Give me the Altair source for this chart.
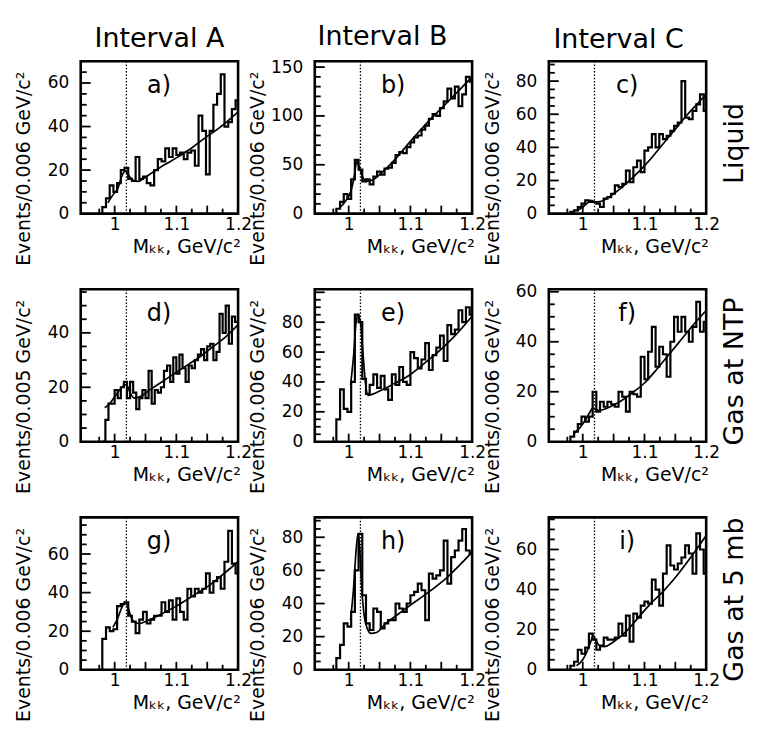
import altair as alt
import pandas as pd

FONT = "DejaVu Sans"
W, H = 158, 153
X_DOMAIN = [0.945, 1.2]
PHI_MASS = 1.019
BIN_START = 0.98
X_LABELS = [1.0, 1.1, 1.2]
X_TICKS_MAJOR = [1.0, 1.05, 1.1, 1.15]
X_TICKS_MINOR = [0.975, 1.025, 1.075, 1.125, 1.175]
PANEL_LABEL_X = 1.072
COLUMN_TITLES = ["Interval A", "Interval B", "Interval C"]
COLUMN_TITLE_DX = [0, -11, -9]
ROW_LABELS = ["Liquid", "Gas at NTP", "Gas at 5 mb"]
X_TITLE = "M\u2096\u2096, GeV/c\u00b2"

# ---- histogram contents (events per bin) ----
A_COUNTS = [3, 7, 13, 10, 14, 20, 21, 16, 15, 26, 16, 17, 14, 13, 20, 25, 24, 30, 26, 30,
            27, 28, 25, 28, 29, 22, 45, 38, 18, 38, 50, 55, 64, 40, 42, 48, 52]
B_COUNTS = [5, 12, 20, 15, 35, 55, 45, 33, 35, 30, 38, 43, 40, 46, 47, 52, 60, 63, 62, 68,
            73, 78, 80, 86, 90, 97, 102, 100, 108, 115, 128, 118, 130, 110, 122, 140, 135]
C_COUNTS = [1, 2, 4, 6, 8, 7, 7, 6, 4, 9, 10, 12, 17, 16, 18, 26, 19, 28, 32, 25,
            38, 40, 48, 40, 48, 45, 47, 50, 53, 55, 80, 58, 57, 62, 66, 72, 62]
D_COUNTS = [0, 8, 14, 14, 19, 16, 20, 22, 16, 22, 18, 12, 16, 19, 16, 26, 14, 19, 18, 20,
            26, 28, 22, 31, 25, 32, 27, 22, 28, 27, 30, 32, 34, 30, 35, 36, 30, 33, 47, 40,
            50, 36, 46, 44]
E_COUNTS = [15, 35, 22, 20, 40, 85, 80, 42, 32, 38, 45, 36, 44, 35, 28, 45, 38, 50, 40, 38,
            60, 56, 49, 55, 66, 48, 58, 63, 71, 54, 78, 72, 75, 88, 80, 90, 85]
F_COUNTS = [2, 4, 7, 10, 8, 10, 20, 12, 16, 14, 16, 15, 14, 20, 18, 12, 20, 19, 18, 34,
            25, 36, 46, 30, 38, 35, 26, 40, 50, 44, 50, 44, 40, 46, 56, 44, 48]
G_COUNTS = [16, 22, 20, 21, 33, 34, 35, 28, 25, 19, 26, 30, 24, 26, 28, 28, 35, 30, 36, 26,
            37, 30, 26, 42, 38, 42, 40, 42, 50, 40, 46, 48, 42, 56, 72, 55, 50]
H_COUNTS = [7, 15, 28, 26, 35, 60, 82, 45, 28, 24, 37, 35, 25, 28, 30, 30, 40, 37, 35, 40,
            45, 47, 52, 48, 30, 58, 55, 57, 60, 78, 52, 68, 72, 78, 85, 72, 70]
I_COUNTS = [2, 4, 10, 8, 11, 18, 15, 10, 12, 16, 15, 15, 16, 23, 17, 27, 14, 28, 26, 32,
            34, 33, 45, 40, 32, 48, 62, 52, 50, 53, 56, 62, 58, 48, 68, 60, 48]

# ---- fit curves ----
A_FIT_X = [0.989, 0.997, 1.005, 1.012, 1.017, 1.023, 1.03, 1.038, 1.05, 1.065, 1.08, 1.1, 1.12, 1.146, 1.17, 1.2]
A_FIT_Y = [5, 8.5, 11.5, 17.5, 19.5, 17.5, 15.2, 14.8, 16.8, 19.6, 22.3, 25.6, 29.2, 34.7, 39.5, 46.8]
B_FIT_X = [0.985, 0.995, 1.003, 1.009, 1.013, 1.017, 1.022, 1.03, 1.04, 1.05, 1.07, 1.1, 1.13, 1.16, 1.18, 1.2]
B_FIT_Y = [6, 13, 22, 38, 53, 48, 38, 33, 35, 40, 52, 74, 95, 114, 127, 140]
C_FIT_X = [0.99, 1.0, 1.008, 1.014, 1.02, 1.03, 1.05, 1.07, 1.09, 1.11, 1.13, 1.15, 1.17, 1.19, 1.2]
C_FIT_Y = [1.5, 4, 6.5, 8, 7, 7.5, 12, 18, 25, 33, 42, 51, 60, 68, 72]
D_FIT_X = [0.984, 0.99, 1.0, 1.008, 1.014, 1.019, 1.025, 1.032, 1.04, 1.06, 1.08, 1.1, 1.12, 1.14, 1.16, 1.18, 1.2]
D_FIT_Y = [12.5, 13.5, 16.5, 19, 20.5, 21, 18, 16, 16.5, 19.5, 22.5, 25.5, 28.5, 31.5, 35, 38.5, 43]
E_FIT_X = [1.003, 1.008, 1.012, 1.015, 1.019, 1.023, 1.027, 1.031, 1.04, 1.05, 1.07, 1.1, 1.13, 1.15, 1.17, 1.2]
E_FIT_Y = [38, 58, 80, 85, 80, 60, 40, 31, 32, 34, 38, 45, 55, 62, 70, 84]
F_FIT_X = [0.985, 0.995, 1.005, 1.012, 1.016, 1.02, 1.027, 1.04, 1.06, 1.08, 1.1, 1.12, 1.14, 1.16, 1.18, 1.2]
F_FIT_Y = [3, 5.5, 9, 12, 13.5, 13, 12.5, 13.5, 16, 19.5, 23.5, 29, 35, 41, 47, 52.5]
G_FIT_X = [0.997, 1.004, 1.01, 1.014, 1.018, 1.022, 1.027, 1.033, 1.04, 1.05, 1.07, 1.1, 1.13, 1.15, 1.17, 1.2]
G_FIT_Y = [22, 26, 31, 34, 35, 32, 27, 24.5, 24, 25, 28, 33, 39, 43, 48, 56]
H_FIT_X = [1.003, 1.008, 1.012, 1.015, 1.018, 1.021, 1.025, 1.03, 1.036, 1.045, 1.06, 1.08, 1.1, 1.13, 1.16, 1.2]
H_FIT_Y = [30, 50, 72, 82, 72, 50, 33, 25, 22, 22.5, 28, 33.5, 39, 47, 56, 71]
I_FIT_X = [0.99, 1.0, 1.008, 1.013, 1.017, 1.021, 1.027, 1.035, 1.05, 1.07, 1.09, 1.11, 1.13, 1.15, 1.17, 1.2]
I_FIT_Y = [2, 5, 10, 14, 17, 15, 12, 11.5, 14, 19, 26, 33, 39, 46, 54, 67]

Y_T6 = "Events/0.006 GeV/c\u00b2"
Y_T5 = "Events/0.005 GeV/c\u00b2"

PANELS = [
    dict(tag="a)", counts=A_COUNTS, bw=0.006, fx=A_FIT_X, fy=A_FIT_Y, ymax=70, labels=[0, 20, 40, 60], major=20, minor=5, ytitle=Y_T6),
    dict(tag="b)", counts=B_COUNTS, bw=0.006, fx=B_FIT_X, fy=B_FIT_Y, ymax=156, labels=[0, 50, 100, 150], major=50, minor=10, ytitle=Y_T6),
    dict(tag="c)", counts=C_COUNTS, bw=0.006, fx=C_FIT_X, fy=C_FIT_Y, ymax=92, labels=[0, 20, 40, 60, 80], major=20, minor=5, ytitle=Y_T6),
    dict(tag="d)", counts=D_COUNTS, bw=0.005, fx=D_FIT_X, fy=D_FIT_Y, ymax=56, labels=[0, 20, 40], major=20, minor=5, ytitle=Y_T5),
    dict(tag="e)", counts=E_COUNTS, bw=0.006, fx=E_FIT_X, fy=E_FIT_Y, ymax=102, labels=[0, 20, 40, 60, 80], major=20, minor=5, ytitle=Y_T6),
    dict(tag="f)", counts=F_COUNTS, bw=0.006, fx=F_FIT_X, fy=F_FIT_Y, ymax=61, labels=[0, 20, 40, 60], major=20, minor=5, ytitle=Y_T6),
    dict(tag="g)", counts=G_COUNTS, bw=0.006, fx=G_FIT_X, fy=G_FIT_Y, ymax=79, labels=[0, 20, 40, 60], major=20, minor=5, ytitle=Y_T6),
    dict(tag="h)", counts=H_COUNTS, bw=0.006, fx=H_FIT_X, fy=H_FIT_Y, ymax=92, labels=[0, 20, 40, 60, 80], major=20, minor=5, ytitle=Y_T6),
    dict(tag="i)", counts=I_COUNTS, bw=0.006, fx=I_FIT_X, fy=I_FIT_Y, ymax=76, labels=[0, 20, 40, 60], major=20, minor=5, ytitle=Y_T6),
]


def make_panel(p, idx):
    row, col = divmod(idx, 3)
    xaxis = alt.Axis(values=X_LABELS, format="~g", ticks=False, domain=False, grid=False,
                     labelFontSize=17, labelPadding=3, labelFlush=False, labelOverlap=False,
                     minExtent=20, maxExtent=20, title=X_TITLE, titleFontSize=19,
                     titlePadding=4, titleX=W / 2 + 27)
    yaxis = alt.Axis(values=p["labels"], ticks=False, domain=False, grid=False,
                     labelFontSize=17, labelPadding=12, labelOverlap=False,
                     minExtent=44, maxExtent=44, title=p["ytitle"], titleFontSize=19,
                     titlePadding=3, titleY=H / 2 + 31)
    xs = alt.Scale(domain=X_DOMAIN, nice=False, zero=False)
    ys = alt.Scale(domain=[0, p["ymax"]], nice=False, zero=True)

    def X(): return alt.X("x:Q", scale=xs, axis=xaxis)
    def Y(): return alt.Y("y:Q", scale=ys, axis=yaxis)

    counts = p["counts"]
    edges = [BIN_START + i * p["bw"] for i in range(len(counts) + 1)]
    hist_df = pd.DataFrame({"x": [edges[0]] + edges,
                            "y": [0] + counts + [counts[-1]],
                            "i": list(range(len(edges) + 1))})
    fit_df = pd.DataFrame({"x": p["fx"], "y": p["fy"]})

    hist = alt.Chart(hist_df).mark_line(interpolate="step-after", color="black",
                                        strokeWidth=2.2, clip=True).encode(x=X(), y=Y(), order="i:Q")
    fit = alt.Chart(fit_df).mark_line(interpolate="monotone", color="black",
                                      strokeWidth=1.7, clip=True).encode(x=X(), y=Y())
    phi = alt.Chart(pd.DataFrame({"x": [PHI_MASS]})).mark_rule(
        color="black", strokeWidth=1.3, strokeDash=[1.5, 1.8]).encode(x=X())

    xt_major = alt.Chart(pd.DataFrame({"x": X_TICKS_MAJOR})).mark_rule(
        color="black", strokeWidth=1.8).encode(x=X(), y=alt.value(H), y2=alt.value(H - 8))
    xt_minor = alt.Chart(pd.DataFrame({"x": X_TICKS_MINOR})).mark_rule(
        color="black", strokeWidth=1.8).encode(x=X(), y=alt.value(H), y2=alt.value(H - 5))

    ymaj = [v for v in range(p["major"], int(p["ymax"]) + 1, p["major"])]
    ymin = [v for v in range(p["minor"], int(p["ymax"]) + 1, p["minor"]) if v % p["major"] != 0]
    yt_major = alt.Chart(pd.DataFrame({"y": ymaj})).mark_rule(
        color="black", strokeWidth=1.8).encode(y=Y(), x=alt.value(0), x2=alt.value(10))
    yt_minor = alt.Chart(pd.DataFrame({"y": ymin})).mark_rule(
        color="black", strokeWidth=1.8).encode(y=Y(), x=alt.value(0), x2=alt.value(6))

    tag = alt.Chart(pd.DataFrame({"x": [PANEL_LABEL_X], "t": [p["tag"]]})).mark_text(
        font=FONT, fontSize=24, color="black").encode(x=X(), y=alt.value(25), text="t:N")

    layers = [hist, fit, phi, xt_major, xt_minor, yt_major, yt_minor, tag]
    if col == 2:
        rl = alt.Chart(pd.DataFrame({"t": [ROW_LABELS[row]]})).mark_text(
            font=FONT, fontSize=27, color="black", angle=270, align="center",
            baseline="middle").encode(x=alt.value(W + 29), y=alt.value(H / 2 + 6), text="t:N")
        layers.append(rl)
    ch = alt.layer(*layers).properties(width=W, height=H)
    if row == 0:
        ch = ch.properties(title=alt.TitleParams(text=COLUMN_TITLES[col], fontSize=27, font=FONT,
                                                 fontWeight="normal", color="black", offset=7,
                                                 dx=COLUMN_TITLE_DX[col], anchor="middle"))
    return ch


charts = [make_panel(p, i) for i, p in enumerate(PANELS)]

chart = alt.concat(*charts, columns=3, spacing={"row": 76, "column": 77}, bounds="flush").properties(
    padding={"left": 5, "top": 12, "right": 0, "bottom": 0}
).configure_view(stroke="black", strokeWidth=2.6).configure_axis(
    labelFont=FONT, titleFont=FONT, labelColor="black", titleColor="black", titleFontWeight="normal"
).configure_title(font=FONT, fontWeight="normal", color="black")

chart.save("out.html", embed_options={"renderer": "svg", "actions": False})
